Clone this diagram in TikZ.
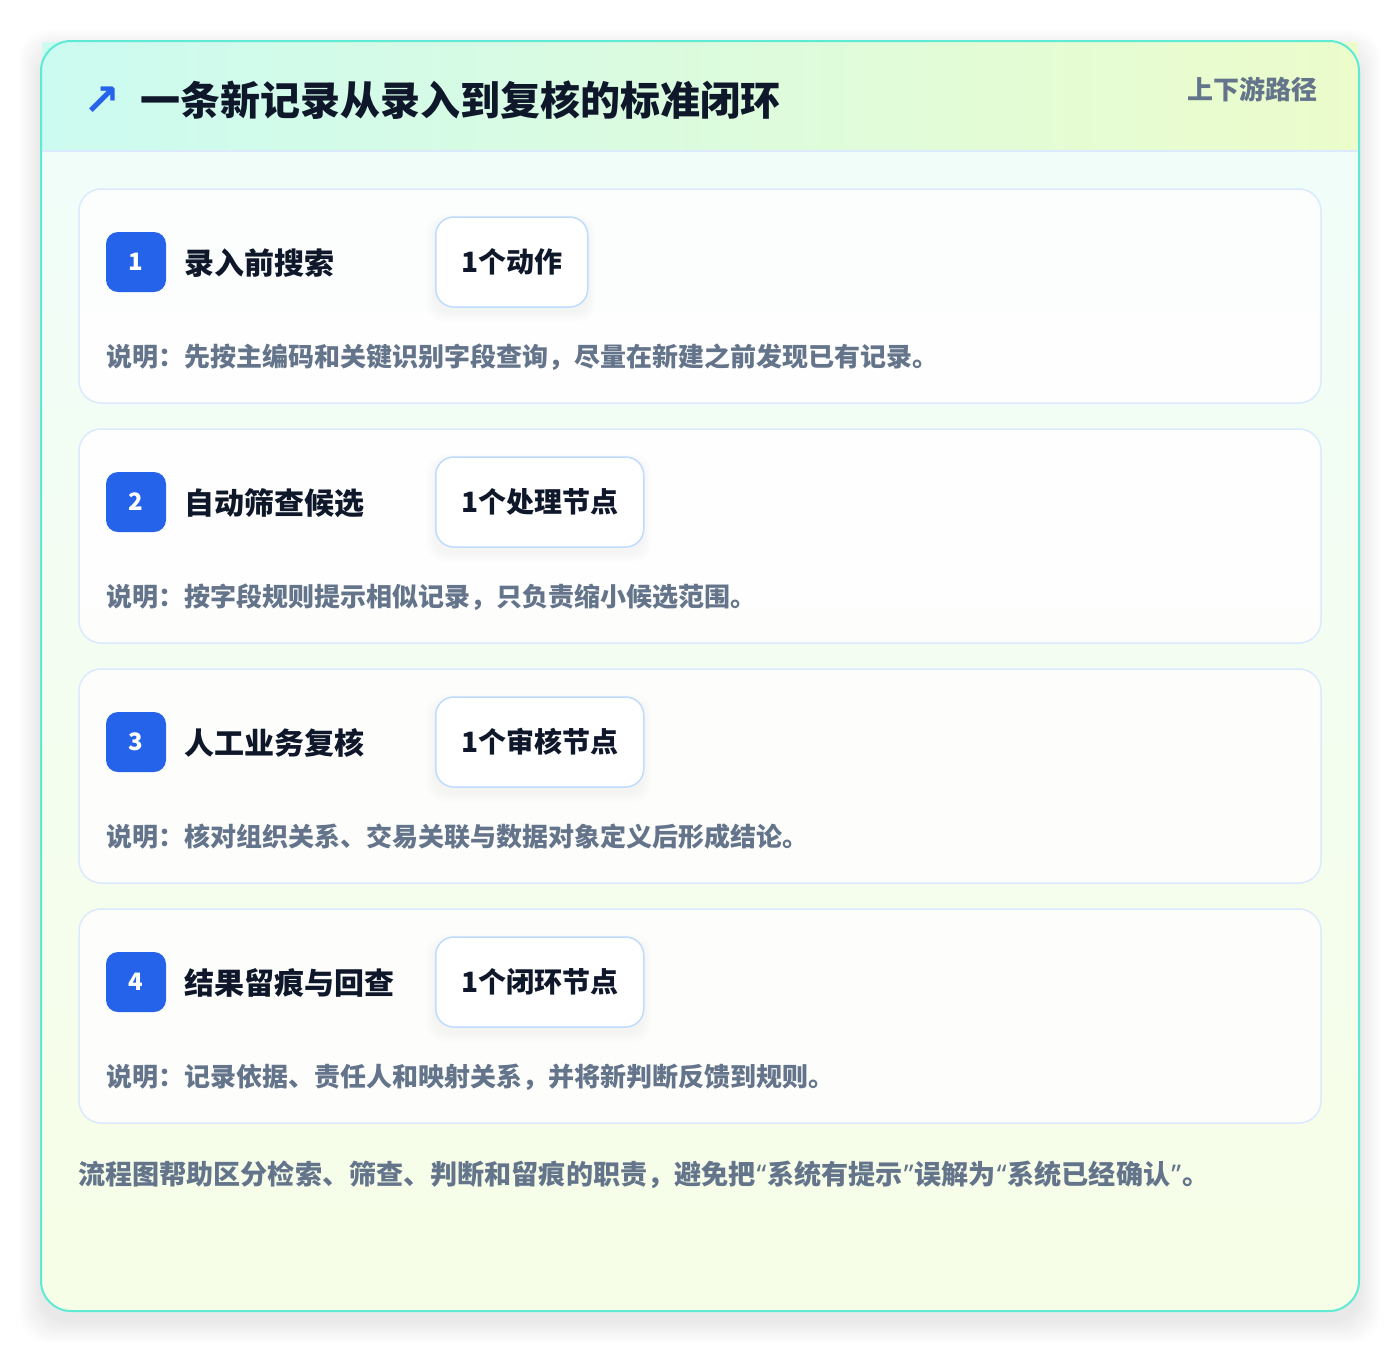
\documentclass[tikz,border=0pt]{standalone}
\usepackage{fontspec}
\setmainfont{Noto Sans CJK SC}
\newfontfamily\symfont{DejaVu Sans}
\newfontfamily\latinfont{Noto Sans}
\usetikzlibrary{positioning}

\definecolor{ink}{HTML}{0F172A}
\definecolor{muted}{HTML}{64748B}
\definecolor{badgeblue}{HTML}{2563EB}
\definecolor{cardline}{HTML}{DBEAFE}
\definecolor{pillline}{HTML}{BFDBFE}
\definecolor{cardedge}{HTML}{5EEAD4}
\definecolor{hdleft}{HTML}{CCFBF1}
\definecolor{hdright}{HTML}{ECFCCB}
\definecolor{mintbg}{HTML}{F0FDFA}
\definecolor{limebg}{HTML}{F7FEE7}

% narrow western quotes inside CJK text
\newcommand{\oq}{{\latinfont\kern1pt“\kern1pt}}
\newcommand{\cq}{{\latinfont\kern1pt”\kern1pt}}

\begin{document}
\begin{tikzpicture}[x=1pt,y=-1pt,
    stepcard/.style={draw=cardline, line width=1.5pt, fill=white, fill opacity=0.85, rounded corners=22pt},
    badge/.style={fill=badgeblue, rounded corners=12pt, minimum size=60pt, inner sep=0pt,
        text=white, font=\fontsize{24}{24}\selectfont\bfseries},
    steptitle/.style={anchor=west, inner sep=0pt, text=ink, font=\fontsize{30}{30}\selectfont\bfseries},
    pill/.style={draw=pillline, line width=1.5pt, fill=white, rounded corners=18pt,
        minimum height=90pt, inner sep=0pt, anchor=west, text=ink, font=\fontsize{28}{28}\selectfont\bfseries},
    note/.style={anchor=west, inner sep=0pt, text=muted, font=\fontsize{26}{26}\selectfont\bfseries}
]
    \useasboundingbox (0,0) rectangle (1400,1352);
    \fill[white] (0,0) rectangle (1400,1352);

    % soft shadow under the outer card
    \foreach \j in {1,...,22}
        \fill[black, opacity=0.0038, rounded corners=30pt]
            (41-\j,{41-\j+10}) rectangle (1359+\j,{1311+\j+10});

    \shade[top color=mintbg, bottom color=limebg, rounded corners=30pt] (41,41) rectangle (1359,1311);
    \shade[left color=hdleft, right color=hdright] (42,42) rectangle (1358,151);
    \draw[cardline, line width=2pt] (42,151) -- (1358,151);
    \draw[cardedge, line width=2pt, rounded corners=30pt] (41,41) rectangle (1359,1311);

    \node[text=badgeblue, inner sep=0pt, font=\symfont\bfseries\fontsize{44}{44}\selectfont] (icon) at (102,101) {↗};
    \node[anchor=west, inner sep=0pt, text=ink, font=\fontsize{40}{40}\selectfont\bfseries] (heading) at (140,100)
        {一条新记录从录入到复核的标准闭环};
    \node[anchor=east, inner sep=0pt, text=muted, font=\fontsize{26}{26}\selectfont\bfseries] (tagline) at (1318,89)
        {上下游路径};

    \foreach \n/\name/\tag/\w/\desc [count=\k from 0] in {
        1/{录入前搜索}/{1个动作}/152/{说明：先按主编码和关键识别字段查询，尽量在新建之前发现已有记录。},
        2/{自动筛查候选}/{1个处理节点}/208/{说明：按字段规则提示相似记录，只负责缩小候选范围。},
        3/{人工业务复核}/{1个审核节点}/208/{说明：核对组织关系、交易关联与数据对象定义后形成结论。},
        4/{结果留痕与回查}/{1个闭环节点}/208/{说明：记录依据、责任人和映射关系，并将新判断反馈到规则。}}
    {
        \pgfmathsetmacro\top{189+240*\k}
        \draw[stepcard] (79,\top) rectangle (1321,{\top+214});
        \node[badge] (badge\n) at (136,{\top+73}) {\n};
        \node[steptitle] (title\n) at (184,{\top+74}) {\name};
        % pill shadow
        \foreach \j in {1,...,9}
            \fill[black, opacity=0.005, rounded corners=18pt]
                (435-\j,{\top+28+6-\j}) rectangle ({435+\w+\j},{\top+118+6+\j});
        \node[pill, minimum width=\w pt] (tag\n) at (435,{\top+73}) {\tag};
        \node[note] (note\n) at (106,{\top+168}) {\desc};
    }

    \node[note, font=\fontsize{27.1}{27.1}\selectfont\bfseries] (footer) at (78,1175)
        {流程图帮助区分检索、筛查、判断和留痕的职责，避免把\oq 系统有提示\cq 误解为\oq 系统已经确认\cq 。};
\end{tikzpicture}
\end{document}
